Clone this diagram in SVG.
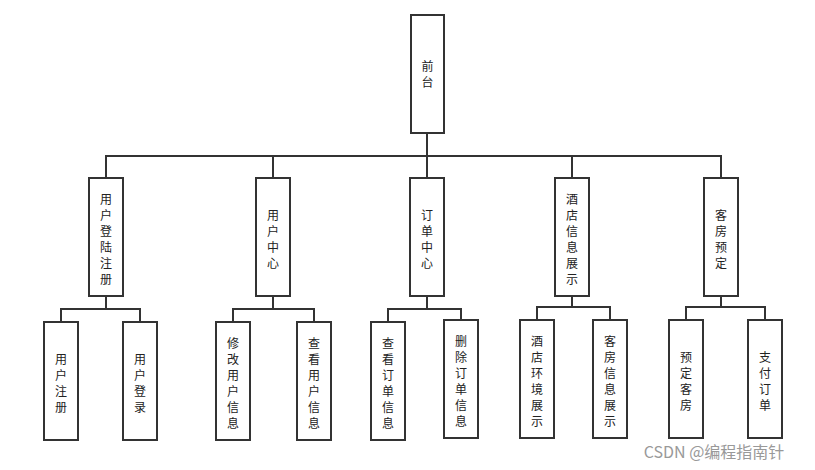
<svg xmlns="http://www.w3.org/2000/svg" width="815" height="470" viewBox="0 0 815 470">
<style>
.b{fill:#fff;stroke:#333;stroke-width:2}
.c{fill:none;stroke:#333;stroke-width:2}
text{font-family:"Noto Sans CJK SC","Liberation Sans",sans-serif;font-size:12px;fill:#222;text-anchor:middle}
</style>
<rect width="815" height="470" fill="#fff"/>
<g id="connectors">
<path class="c" d="M427 133V156M106 178V156H721V178M273 156V178M427 156V178M572 156V178"/>
<path class="c" d="M106 296V309M61 322V309H140V322"/>
<path class="c" d="M273 296V309M233 322V309H314V322"/>
<path class="c" d="M427 296V309M388 322V309H461V320"/>
<path class="c" d="M572 296V307M537 320V307H610V320"/>
<path class="c" d="M721 296V307M686 320V307H765V320"/>
</g>
<g id="n0"><rect class="b" x="411" y="15" width="33" height="118"/><text x="427.5" y="71">前</text><text x="427.5" y="87">台</text></g>
<g id="n1"><rect class="b" x="89" y="178" width="34" height="118"/><text x="106" y="204">用</text><text x="106" y="220">户</text><text x="106" y="236">登</text><text x="106" y="252">陆</text><text x="106" y="268">注</text><text x="106" y="284">册</text></g>
<g id="n2"><rect class="b" x="256" y="178" width="34" height="118"/><text x="273" y="220">用</text><text x="273" y="236">户</text><text x="273" y="252">中</text><text x="273" y="268">心</text></g>
<g id="n3"><rect class="b" x="410" y="178" width="34" height="118"/><text x="427" y="220">订</text><text x="427" y="236">单</text><text x="427" y="252">中</text><text x="427" y="268">心</text></g>
<g id="n4"><rect class="b" x="555" y="178" width="34" height="118"/><text x="572" y="204">酒</text><text x="572" y="220">店</text><text x="572" y="236">信</text><text x="572" y="252">息</text><text x="572" y="268">展</text><text x="572" y="284">示</text></g>
<g id="n5"><rect class="b" x="704" y="178" width="34" height="118"/><text x="721" y="220">客</text><text x="721" y="236">房</text><text x="721" y="252">预</text><text x="721" y="268">定</text></g>
<g id="n6"><rect class="b" x="44" y="322" width="34" height="118"/><text x="61" y="364">用</text><text x="61" y="380">户</text><text x="61" y="396">注</text><text x="61" y="412">册</text></g>
<g id="n7"><rect class="b" x="123" y="322" width="34" height="118"/><text x="140" y="364">用</text><text x="140" y="380">户</text><text x="140" y="396">登</text><text x="140" y="412">录</text></g>
<g id="n8"><rect class="b" x="216" y="322" width="34" height="118"/><text x="233" y="348">修</text><text x="233" y="364">改</text><text x="233" y="380">用</text><text x="233" y="396">户</text><text x="233" y="412">信</text><text x="233" y="428">息</text></g>
<g id="n9"><rect class="b" x="297" y="322" width="34" height="118"/><text x="314" y="348">查</text><text x="314" y="364">看</text><text x="314" y="380">用</text><text x="314" y="396">户</text><text x="314" y="412">信</text><text x="314" y="428">息</text></g>
<g id="n10"><rect class="b" x="371" y="322" width="34" height="118"/><text x="388" y="348">查</text><text x="388" y="364">看</text><text x="388" y="380">订</text><text x="388" y="396">单</text><text x="388" y="412">信</text><text x="388" y="428">息</text></g>
<g id="n11"><rect class="b" x="444" y="320" width="34" height="118"/><text x="461" y="346">删</text><text x="461" y="362">除</text><text x="461" y="378">订</text><text x="461" y="394">单</text><text x="461" y="410">信</text><text x="461" y="426">息</text></g>
<g id="n12"><rect class="b" x="520" y="320" width="34" height="118"/><text x="537" y="346">酒</text><text x="537" y="362">店</text><text x="537" y="378">环</text><text x="537" y="394">境</text><text x="537" y="410">展</text><text x="537" y="426">示</text></g>
<g id="n13"><rect class="b" x="593" y="320" width="34" height="118"/><text x="610" y="346">客</text><text x="610" y="362">房</text><text x="610" y="378">信</text><text x="610" y="394">息</text><text x="610" y="410">展</text><text x="610" y="426">示</text></g>
<g id="n14"><rect class="b" x="669" y="320" width="34" height="118"/><text x="686" y="362">预</text><text x="686" y="378">定</text><text x="686" y="394">客</text><text x="686" y="410">房</text></g>
<g id="n15"><rect class="b" x="748" y="320" width="34" height="118"/><text x="765" y="362">支</text><text x="765" y="378">付</text><text x="765" y="394">订</text><text x="765" y="410">单</text></g>
<text x="714" y="458" style="font-size:16px;fill:#999">CSDN @编程指南针</text>
</svg>
